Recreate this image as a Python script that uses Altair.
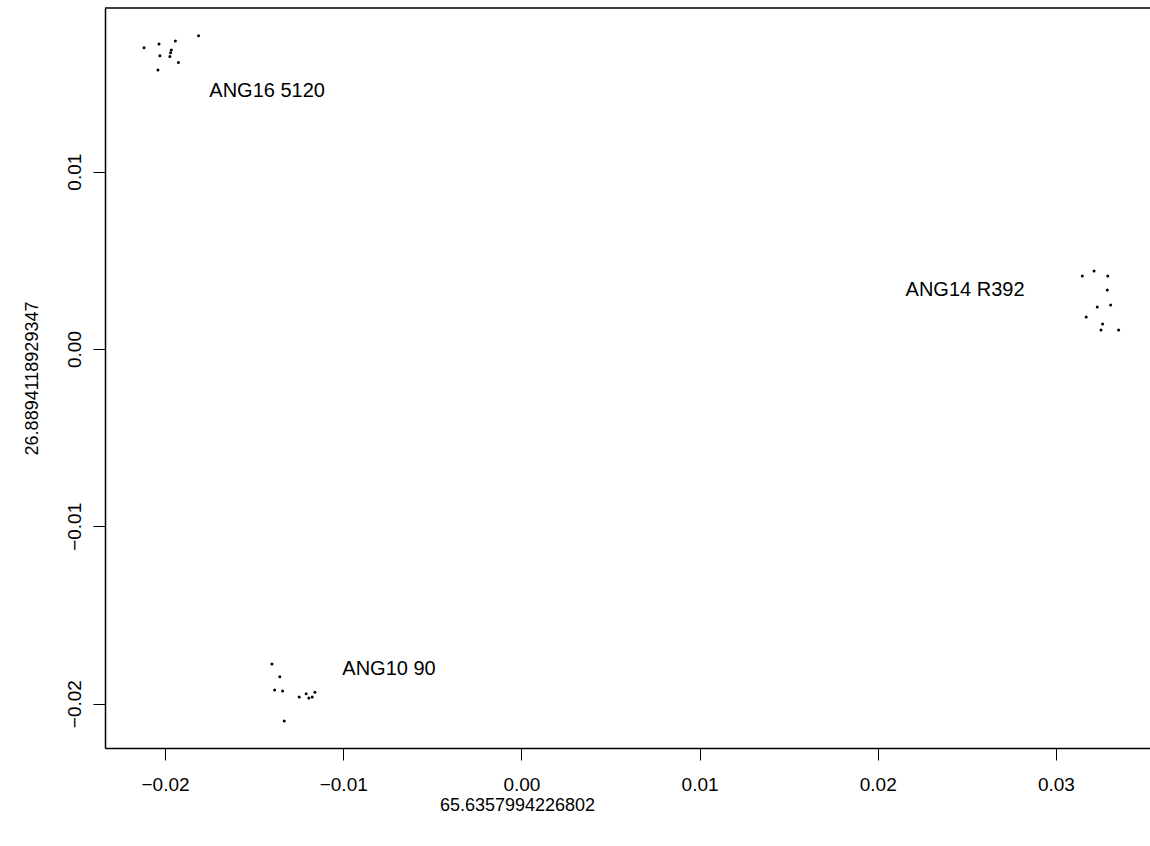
import altair as alt
import pandas as pd

# ---- data ----
ang16_x = [-0.02118, -0.02034, -0.01942, -0.01812, -0.02029, -0.01965, -0.01969, -0.01973, -0.01925, -0.02040]
ang16_y = [0.01699, 0.01720, 0.01737, 0.01767, 0.01654, 0.01686, 0.01671, 0.01649, 0.01615, 0.01574]

ang10_x = [-0.01400, -0.01356, -0.01385, -0.01340, -0.01247, -0.01208, -0.01193, -0.01174, -0.01159, -0.01331]
ang10_y = [-0.01777, -0.01848, -0.01923, -0.01929, -0.01963, -0.01944, -0.01968, -0.01963, -0.01935, -0.02098]

ang14_x = [0.03214, 0.03291, 0.03288, 0.03232, 0.03307, 0.03262, 0.03253, 0.03352, 0.03148, 0.03170]
ang14_y = [0.00440, 0.00412, 0.00333, 0.00237, 0.00248, 0.00141, 0.00107, 0.00107, 0.00412, 0.00180]

label_names = ["ANG16 5120", "ANG10 90", "ANG14 R392"]
label_x = [-0.01427, -0.00743, 0.02490]
label_y = [0.01455, -0.01805, 0.00333]

x_ticks = [-0.02, -0.01, 0.0, 0.01, 0.02, 0.03]
y_ticks = [-0.02, -0.01, 0.0, 0.01]
x_domain = [-0.02337, 0.03528]
y_domain = [-0.02250, 0.01923]

x_title = "65.6357994226802"
y_title = "26.8894118929347"

FONT = "Liberation Sans"

pts = pd.DataFrame({
    "x": ang16_x + ang10_x + ang14_x,
    "y": ang16_y + ang10_y + ang14_y,
})
labs = pd.DataFrame({"x": label_x, "y": label_y, "label": label_names})

W, H = 1045, 740

xscale = alt.Scale(domain=x_domain, nice=False, zero=False)
yscale = alt.Scale(domain=y_domain, nice=False, zero=False)

points = alt.Chart(pts).mark_point(
    filled=True, shape="circle", size=9, color="black", opacity=1
).encode(
    x=alt.X("x:Q", scale=xscale, title=x_title,
            axis=alt.Axis(values=x_ticks, format=".2f", labelPadding=15,
                          labelFlush=False, labelOverlap=False,
                          titleX=412, titleY=57, titleAlign="center",
                          titleBaseline="middle")),
    y=alt.Y("y:Q", scale=yscale, title=y_title,
            axis=alt.Axis(values=y_ticks, format=".2f", labelAngle=270,
                          labelAlign="center", labelBaseline="bottom",
                          labelPadding=9, labelFlush=False, labelOverlap=False,
                          titleAngle=270, titleX=-73, titleY=370,
                          titleAlign="center", titleBaseline="middle")),
)

labels = alt.Chart(labs).mark_text(
    font=FONT, fontSize=20, align="center", baseline="middle", color="black"
).encode(x="x:Q", y="y:Q", text="label:N")

top_line = alt.Chart(pd.DataFrame({"a": [0]})).mark_rule(
    color="black", strokeWidth=1.5
).encode(x=alt.value(0), x2=alt.value(W), y=alt.value(0))

chart = alt.layer(points, labels, top_line).properties(
    width=W, height=H,
    padding={"left": 105, "top": 8, "right": 0, "bottom": 98},
    autosize=alt.AutoSizeParams(type="none"),
).configure_view(stroke=None).configure_axis(
    grid=False,
    domainColor="black", domainWidth=1.5,
    tickColor="black", tickSize=12, tickWidth=1,
    labelFont=FONT, labelFontSize=19, labelColor="black",
    titleFont=FONT, titleFontSize=18, titleFontWeight="normal", titleColor="black",
)

chart.save("out.html", embed_options={"renderer": "svg", "actions": False})
